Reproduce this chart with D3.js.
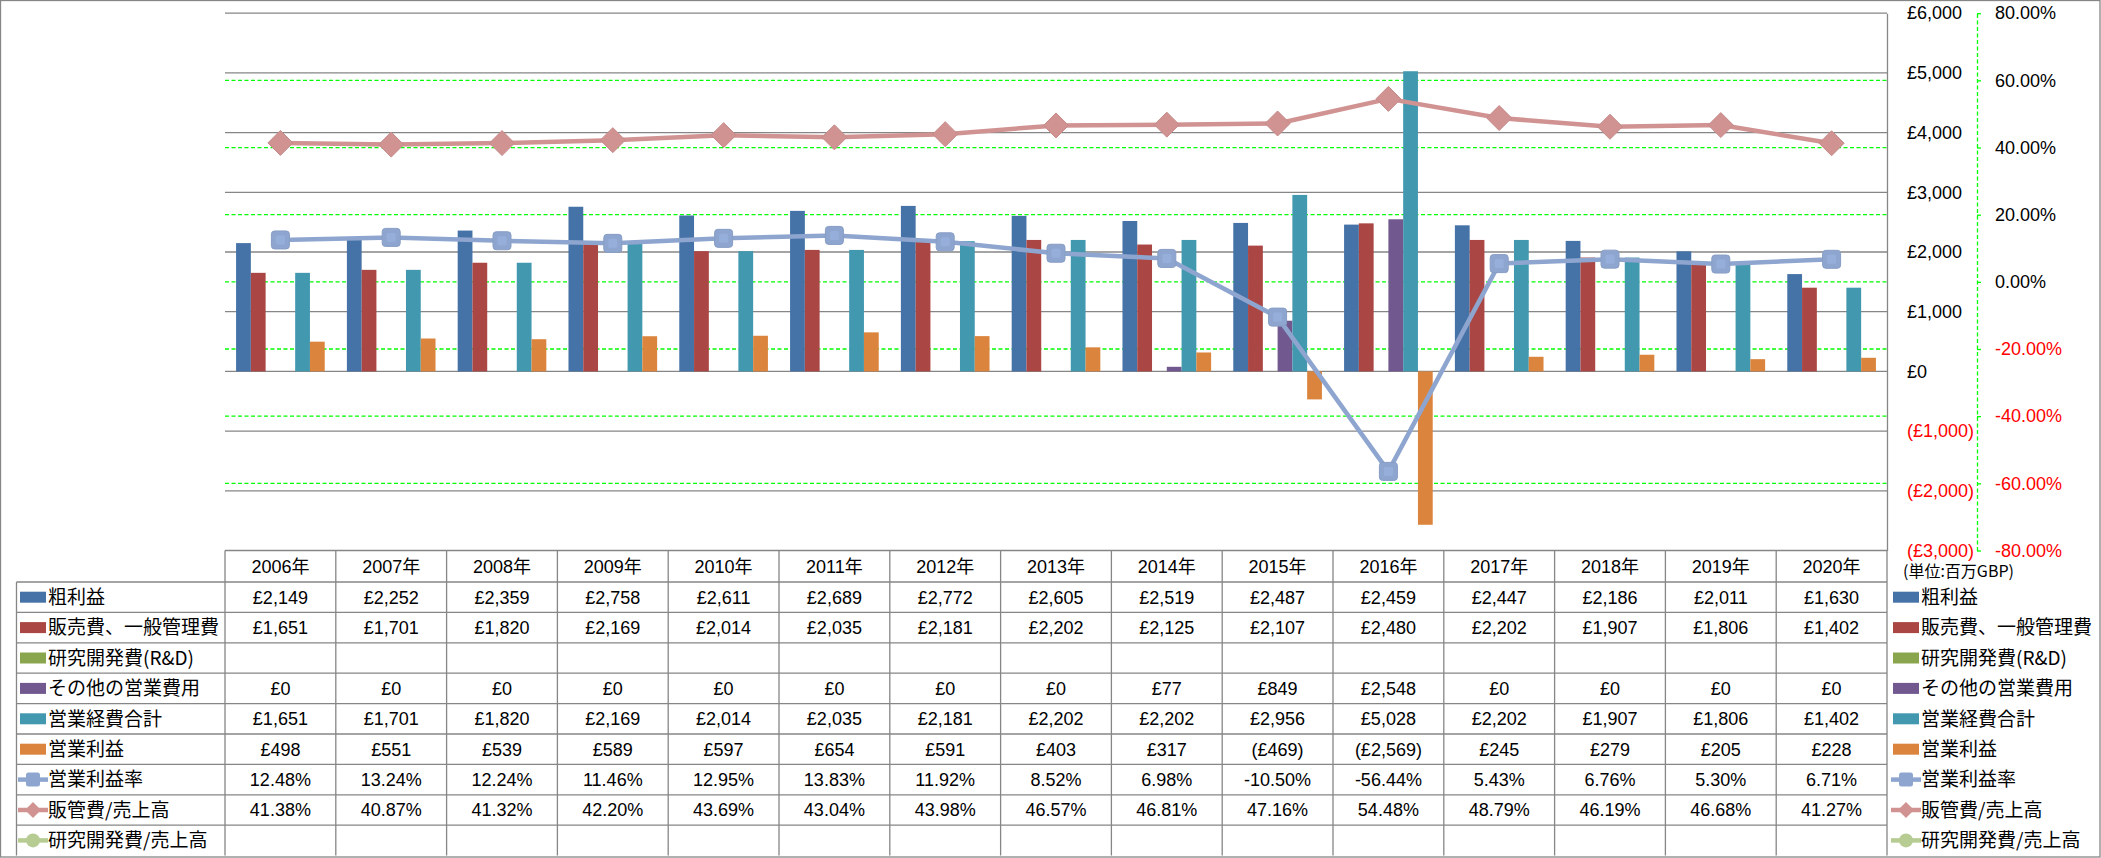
<!DOCTYPE html>
<html>
<head>
<meta charset="utf-8">
<script src="https://cdn.jsdelivr.net/npm/d3@7/dist/d3.min.js"></script>
<style>
  html, body { margin: 0; padding: 0; background: #fff; }
  svg { display: block; }
  text { font-family: "Liberation Sans", "Noto Sans CJK JP", sans-serif; fill: #000; }
  .cjk { font-family: "Noto Sans CJK JP", "Liberation Sans", sans-serif; }
</style>
</head>
<body>
<svg id="chart" width="2101" height="858"></svg>
<script>
// ---------------- data ----------------
const years = ['2006年','2007年','2008年','2009年','2010年','2011年','2012年','2013年','2014年','2015年','2016年','2017年','2018年','2019年','2020年'];
const grossProfit     = [2149,2252,2359,2758,2611,2689,2772,2605,2519,2487,2459,2447,2186,2011,1630];
const sgaExpense      = [1651,1701,1820,2169,2014,2035,2181,2202,2125,2107,2480,2202,1907,1806,1402];
const rndExpense      = [null,null,null,null,null,null,null,null,null,null,null,null,null,null,null];
const otherOpex       = [0,0,0,0,0,0,0,0,77,849,2548,0,0,0,0];
const totalOpex       = [1651,1701,1820,2169,2014,2035,2181,2202,2202,2956,5028,2202,1907,1806,1402];
const operatingProfit = [498,551,539,589,597,654,591,403,317,-469,-2569,245,279,205,228];
const opMargin        = [12.48,13.24,12.24,11.46,12.95,13.83,11.92,8.52,6.98,-10.50,-56.44,5.43,6.76,5.30,6.71];
const sgaRatio        = [41.38,40.87,41.32,42.20,43.69,43.04,43.98,46.57,46.81,47.16,54.48,48.79,46.19,46.68,41.27];
const rndRatio        = [null,null,null,null,null,null,null,null,null,null,null,null,null,null,null];

const moneyTicks   = [-3000,-2000,-1000,0,1000,2000,3000,4000,5000,6000];
const percentTicks = [-80,-60,-40,-20,0,20,40,60,80];
const unitLabel = '(単位:百万GBP)';

const barSeries = [
  {name:'粗利益', values: grossProfit, color:'#4572A7'},
  {name:'販売費、一般管理費', values: sgaExpense, color:'#AA4643'},
  {name:'研究開発費(R&D)', values: rndExpense, color:'#89A54E'},
  {name:'その他の営業費用', values: otherOpex, color:'#71588F'},
  {name:'営業経費合計', values: totalOpex, color:'#4198AF'},
  {name:'営業利益', values: operatingProfit, color:'#DB843D'}
];
const lineSeries = [
  {name:'営業利益率', values: opMargin, color:'#8EA6CF', marker:'square'},
  {name:'販管費/売上高', values: sgaRatio, color:'#D09392', marker:'diamond'},
  {name:'研究開発費/売上高', values: rndRatio, color:'#B6CC92', marker:'circle'}
];

// ---------------- layout ----------------
const W = 2101, H = 858;
const plotL = 225, plotR = 1887, plotT = 13.2, plotB = 550.5;
const tableTop = 550.5, headerH = 31.5, rowH = 30.4;
const labelColL = 16.5;
const grey = '#868686';

const svg = d3.select('#chart');

// outer border
svg.append('rect').attr('x',0.5).attr('y',0.5).attr('width',W-1.5).attr('height',H-1.5)
  .attr('fill','#fff').attr('stroke',grey).attr('stroke-width',1.3);

const x0 = d3.scaleBand().domain(years).range([plotL, plotR]).paddingInner(0).paddingOuter(0);
const x1 = d3.scaleBand().domain(barSeries.map(s=>s.name)).range([0, x0.bandwidth()]).paddingInner(0).paddingOuter(0.75);
const y = d3.scaleLinear().domain([-3000,6000]).range([plotB, plotT]);
const y2 = d3.scaleLinear().domain([-80,80]).range([plotB, plotT]);

// primary gridlines
svg.append('g').selectAll('line').data(moneyTicks.filter(t=>t>-3000)).join('line')
  .attr('x1',plotL).attr('x2',plotR).attr('y1',d=>y(d)).attr('y2',d=>y(d))
  .attr('stroke',grey).attr('stroke-width',1.3);

// secondary gridlines (green dashed)
svg.append('g').selectAll('line').data(percentTicks.filter(t=>Math.abs(t)<80)).join('line')
  .attr('x1',plotL).attr('x2',plotR).attr('y1',d=>y2(d)).attr('y2',d=>y2(d))
  .attr('stroke','#00FF00').attr('stroke-width',1.3).attr('stroke-dasharray','4,2.5');

// bars
const gBars = svg.append('g');
barSeries.forEach(s => {
  gBars.append('g').selectAll('rect')
    .data(s.values.map((v,i)=>({v, year: years[i]})).filter(d=>d.v!==null && d.v!==0))
    .join('rect')
    .attr('x', d => x0(d.year) + x1(s.name))
    .attr('width', x1.bandwidth())
    .attr('y', d => y(Math.max(0,d.v)))
    .attr('height', d => Math.abs(y(d.v) - y(0)))
    .attr('fill', s.color);
});

// marker path generator
function markerPath(type, size) {
  if (type === 'square') {
    const h = size/2, r = size*0.18;
    return `M${-h+r},${-h}H${h-r}Q${h},${-h} ${h},${-h+r}V${h-r}Q${h},${h} ${h-r},${h}H${-h+r}Q${-h},${h} ${-h},${h-r}V${-h+r}Q${-h},${-h} ${-h+r},${-h}Z`;
  }
  if (type === 'diamond') {
    const h = size/2;
    return `M0,${-h}L${h},0L0,${h}L${-h},0Z`;
  }
  const r = size/2;
  return `M${r},0A${r},${r} 0 1,1 ${-r},0A${r},${r} 0 1,1 ${r},0Z`;
}

// lines
const cx = yr => x0(yr) + x0.bandwidth()/2;
const gLines = svg.append('g');
lineSeries.forEach(s => {
  const pts = s.values.map((v,i)=>({v, year: years[i]})).filter(d=>d.v!==null);
  if (!pts.length) return;
  const line = d3.line().x(d=>cx(d.year)).y(d=>y2(d.v));
  gLines.append('path').datum(pts).attr('d', line)
    .attr('fill','none').attr('stroke', s.color).attr('stroke-width',4.5)
    .attr('stroke-linejoin','round');
  const msize = s.marker==='diamond' ? 25 : 18;
  gLines.append('g').selectAll('path').data(pts).join('path')
    .attr('transform', d=>`translate(${cx(d.year)},${y2(d.v)})`)
    .attr('d', markerPath(s.marker, msize))
    .attr('fill', s.color).attr('stroke', d3.color(s.color).darker(0.15)).attr('stroke-width',1);
  if (s.marker==='square') {
    gLines.append('g').selectAll('path').data(pts).join('path')
      .attr('transform', d=>`translate(${cx(d.year)},${y2(d.v)})`)
      .attr('d', markerPath('square', 9))
      .attr('fill', d3.color(s.color).brighter(0.15));
  }
});

// primary axis (right, £)
const fmtMoney = v => v < 0 ? `(£${d3.format(',')(-v)})` : `£${d3.format(',')(v)}`;
const axisMoney = d3.axisRight(y).tickValues(moneyTicks).tickFormat(fmtMoney).tickSizeInner(0).tickSizeOuter(0).tickPadding(20);
const gAxM = svg.append('g').attr('transform',`translate(${plotR},0)`).call(axisMoney);
gAxM.select('.domain').attr('stroke',grey).attr('stroke-width',1.3);
gAxM.selectAll('text').attr('font-size',18).attr('font-family','Liberation Sans')
  .style('fill', d => d < 0 ? '#FF0000' : '#000');

// secondary axis (right, %)
const axisPct = d3.axisRight(y2).tickValues(percentTicks).tickFormat(v => v.toFixed(2)+'%').tickSizeInner(4).tickSizeOuter(0).tickPadding(14);
const gAxP = svg.append('g').attr('transform',`translate(1977,0)`).call(axisPct);
gAxP.select('.domain').attr('stroke','#00FF00').attr('stroke-width',1.3).attr('stroke-dasharray','4,2.5');
gAxP.selectAll('.tick line').attr('stroke','#00FF00').attr('stroke-width',1.3);
gAxP.selectAll('text').attr('font-size',18).attr('font-family','Liberation Sans')
  .style('fill', d => d < 0 ? '#FF0000' : '#000');

// ---------------- data table ----------------
const allRows = [...barSeries.map(s=>({...s, kind:'bar'})), ...lineSeries.map(s=>({...s, kind:'line'}))];
const rowTop = i => tableTop + headerH + i*rowH;
const tableBottom = rowTop(allRows.length);
const gT = svg.append('g');

// horizontal lines
gT.append('line').attr('x1',plotL).attr('x2',plotR).attr('y1',tableTop).attr('y2',tableTop).attr('stroke',grey).attr('stroke-width',1.3);
for (let i=0;i<allRows.length;i++) {
  gT.append('line').attr('x1',labelColL).attr('x2',plotR).attr('y1',rowTop(i)).attr('y2',rowTop(i)).attr('stroke',grey).attr('stroke-width',1.3);
}
// vertical lines
years.forEach(yr => {
  gT.append('line').attr('x1',x0(yr)).attr('x2',x0(yr)).attr('y1',tableTop).attr('y2',tableBottom).attr('stroke',grey).attr('stroke-width',1.3);
});
gT.append('line').attr('x1',plotR).attr('x2',plotR).attr('y1',tableTop).attr('y2',tableBottom).attr('stroke',grey).attr('stroke-width',1.3);
gT.append('line').attr('x1',labelColL).attr('x2',labelColL).attr('y1',rowTop(0)).attr('y2',tableBottom).attr('stroke',grey).attr('stroke-width',1.3);

// header
gT.append('g').selectAll('text').data(years).join('text')
  .attr('x', d=>cx(d)).attr('y', tableTop + headerH/2).attr('dy','0.35em')
  .attr('text-anchor','middle').attr('font-size',18).text(d=>d);

// legend key drawer
function drawKey(g, s, xs, yc) {
  if (s.kind==='bar') {
    g.append('rect').attr('x',xs).attr('y',yc-5.5).attr('width',26).attr('height',11).attr('fill',s.color);
  } else {
    g.append('line').attr('x1',xs-2).attr('x2',xs+28).attr('y1',yc).attr('y2',yc).attr('stroke',s.color).attr('stroke-width',4.5);
    g.append('path').attr('transform',`translate(${xs+13},${yc})`)
      .attr('d', markerPath(s.marker, s.marker==='diamond'?16:14)).attr('fill',s.color);
  }
}

const fmtPct = v => v.toFixed(2)+'%';
allRows.forEach((s,i) => {
  const yc = rowTop(i) + rowH/2;
  drawKey(gT, s, 20, yc);
  gT.append('text').attr('class','cjk').attr('x',48).attr('y',yc).attr('dy','0.36em')
    .attr('font-size',19).style('font-family','"Noto Sans CJK JP"').text(s.name);
  gT.append('g').selectAll('text').data(s.values.map((v,j)=>({v, year: years[j]})).filter(d=>d.v!==null)).join('text')
    .attr('x', d=>cx(d.year)).attr('y', yc).attr('dy','0.35em').attr('text-anchor','middle').attr('font-size',18)
    .text(d => s.kind==='bar' ? fmtMoney(d.v) : fmtPct(d.v));
  // right legend
  drawKey(gT, s, 1893, yc);
  gT.append('text').attr('x',1921).attr('y',yc).attr('dy','0.36em')
    .attr('font-size',19).style('font-family','"Noto Sans CJK JP"').text(s.name);
});

// unit label
svg.append('text').attr('x',1903).attr('y',571).attr('dy','0.36em').attr('font-size',16)
  .style('font-family','"Noto Sans CJK JP"').text(unitLabel);
</script>
</body>
</html>
